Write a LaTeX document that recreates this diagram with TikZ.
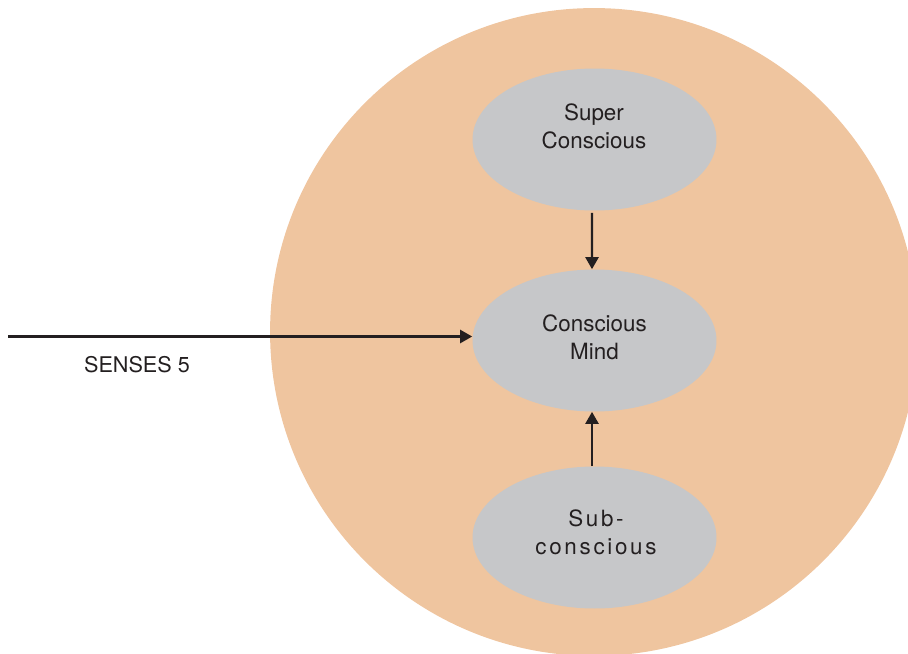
\documentclass[tikz,border=0pt]{standalone}
\usepackage{fontspec}
\setmainfont{TeX Gyre Heros}
\usepackage{tikz}
\usetikzlibrary{shapes.geometric, arrows.meta}
\definecolor{peach}{RGB}{239,197,159}
\definecolor{blobgray}{RGB}{198,199,201}
\definecolor{ink}{RGB}{35,31,32}

\begin{document}
\begin{tikzpicture}[x=0.02cm, y=-0.02cm, >={Triangle[length=6.8pt,width=7.4pt]},
         blob/.style={
         % The shape:
         ellipse,
         % The size:
         minimum width=4.88cm,
         minimum height=2.84cm,
         inner sep=0pt,
         % The filling
         fill=blobgray, draw=none},
         txt/.style={align=center, text=ink, font=\fontsize{12.75}{16}\selectfont},
         link/.style={->, ink, line width=1.25pt}]
            \clip (0,0) rectangle (908,653);
            \useasboundingbox (0,0) rectangle (908,653);
            \fill [peach] (594,332) circle [radius=6.48cm];
            \node [blob] (sup) at (594.5,139.5) {};
            \node [blob] (mind) at (594.5,340.5) {};
            \node [blob] (sub) at (594.5,537.5) {};
            \node [txt] (suptext) at (594,126) {Super\\Conscious};
            \node [txt] (mindtext) at (594.5,337) {Conscious\\Mind};
            \node [txt, font=\fontsize{12.75}{16}\selectfont\addfontfeature{LetterSpace=12}] (subtext) at (596,532) {Sub-\\conscious};
            \node [txt, font=\fontsize{12.3}{16}\selectfont] (senses) at (137,365) {SENSES 5};
            \coordinate (in) at (8,336.5);
            \draw [link] ([shift={(-2.5,2)}]sup.south) -- ([xshift=-0.05cm]mind.north);
            \draw [link] ([xshift=-0.05cm]sub.north) -- ([xshift=-0.05cm]mind.south);
            \draw [link] (in) -- (in -| mind.west);
      \end{tikzpicture}
\end{document}
